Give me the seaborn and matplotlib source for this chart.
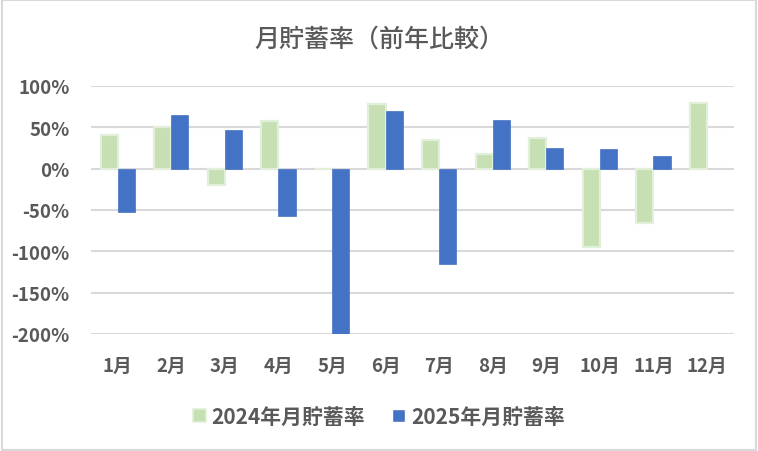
import pandas as pd
import numpy as np
import seaborn as sns
import matplotlib.pyplot as plt
from matplotlib.patches import Rectangle

# 月別の貯蓄率
months = ['1月', '2月', '3月', '4月', '5月', '6月',
          '7月', '8月', '9月', '10月', '11月', '12月']
rate_2024 = [0.40, 0.50, -0.20, 0.58, -0.01, 0.78,
             0.34, 0.17, 0.37, -0.95, -0.66, 0.79]
rate_2025 = [-0.53, 0.65, 0.47, -0.58, -2.02, 0.69,
             -1.15, 0.59, 0.25, 0.23, 0.15, np.nan]
series_names = ['2024年月貯蓄率', '2025年月貯蓄率']
y_ticks = [1.0, 0.5, 0.0, -0.5, -1.0, -1.5, -2.0]

green = '#C6E0B4'
green_edge = '#E2EFDA'
blue = '#4472C4'
text_color = '#595959'
grid_color = '#D9D9D9'

df = pd.DataFrame({
    'month': months * 2,
    'rate': rate_2024 + rate_2025,
    'series': [series_names[0]] * 12 + [series_names[1]] * 12,
}).dropna()

sns.set_theme(style='white')
plt.rcParams['font.family'] = ['Noto Sans CJK JP', 'DejaVu Sans']

fig = plt.figure(figsize=(7.58, 4.52), dpi=100)
ax = fig.add_axes([0.120, 0.259, 0.848, 0.549])

sns.barplot(data=df, x='month', y='rate', hue='series', order=months,
            hue_order=series_names, palette=[green, blue], saturation=1,
            width=0.64, ax=ax, errorbar=None, legend=True)

# 2024 のバーには淡い縁取り
for bar in ax.containers[0]:
    bar.set_edgecolor(green_edge)
    bar.set_linewidth(1.6)
for bar in ax.containers[1]:
    bar.set_edgecolor(blue)
    bar.set_linewidth(0.5)

ax.set_ylim(-2.0, 1.0)
ax.set_xlim(-0.5, 11.5)
ax.set_yticks(y_ticks)
ax.set_yticklabels([f'{int(round(v * 100))}%' for v in y_ticks])
ax.yaxis.grid(True, color=grid_color, linewidth=1.5)
ax.set_axisbelow(True)
for s in ax.spines.values():
    s.set_visible(False)
ax.set_xlabel('')
ax.set_ylabel('')
ax.tick_params(axis='y', length=0, pad=15.5, labelsize=13.5, labelcolor=text_color)
ax.tick_params(axis='x', length=0, pad=16, labelsize=13.5, labelcolor=text_color)
for lab in ax.get_xticklabels() + ax.get_yticklabels():
    lab.set_fontweight('bold')

handles, labels = ax.get_legend_handles_labels()
ax.get_legend().remove()
leg = fig.legend(handles, labels, loc='center', bbox_to_anchor=(0.5, 0.076),
                 ncol=2, frameon=False, handlelength=0.6, handleheight=0.6,
                 handletextpad=0.3, columnspacing=1.3,
                 prop={'size': 15, 'weight': 'bold'})
for t in leg.get_texts():
    t.set_color(text_color)
leg.legend_handles[0].set_edgecolor(green_edge)
leg.legend_handles[0].set_linewidth(1.2)

fig.text(0.5, 0.912, '月貯蓄率（前年比較）', ha='center', va='center',
         fontsize=18, fontweight='medium', color=text_color)

# 図の枠線
fig.patches.append(Rectangle((0.002, 0.003), 0.996, 0.994, transform=fig.transFigure,
                             fill=False, edgecolor=grid_color, linewidth=1.5))

fig.savefig('out.png', dpi=100)
